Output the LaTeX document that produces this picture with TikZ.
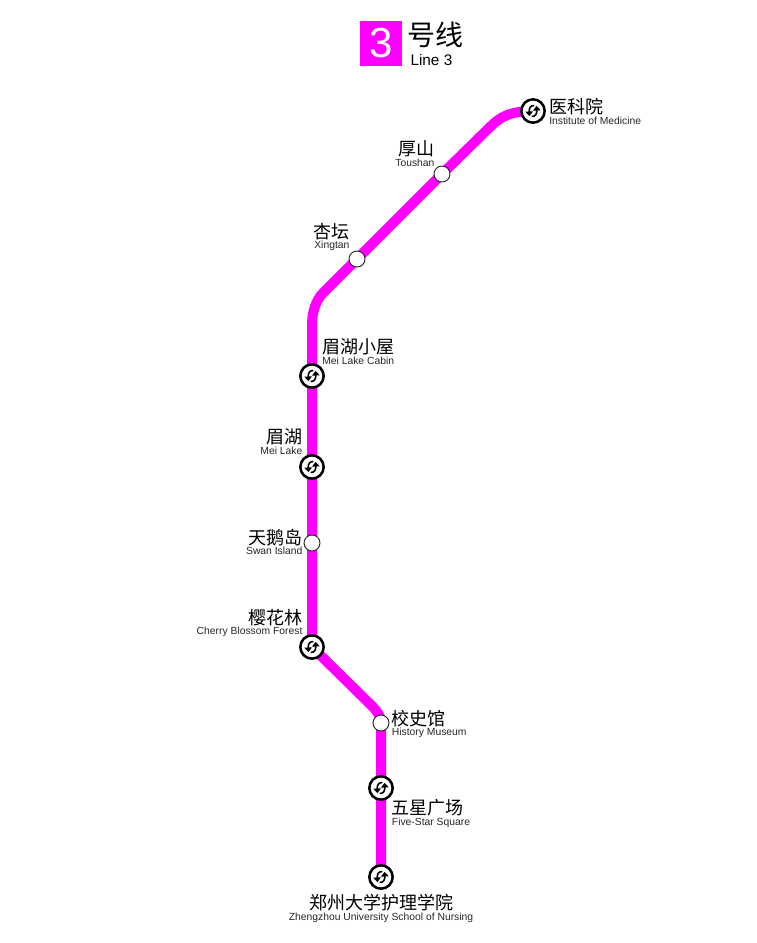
\documentclass[tikz,border=0pt]{standalone}
\usepackage{xcolor}
\usepackage{fontspec}
\setmainfont{Liberation Sans}
\newfontfamily\cjk{Noto Sans CJK SC}
\usetikzlibrary{arrows.meta,positioning,backgrounds}
\definecolor{linethree}{HTML}{FF00FF}
\newcommand{\lblfont}{\fontsize{7}{8}\selectfont\lineskiplimit=-20pt\relax}
\newcommand{\stn}[2]{{\fontsize{13.5}{13.5}\cjk #1}\\[-.1pt]{\fontsize{7.75}{7.75}\selectfont\color{black!85} #2}}
\begin{document}
\begin{tikzpicture}[x=.75pt,y=-.75pt,
  every node/.style={align=center,inner sep=0pt},
  stop/.style={circle,draw=black!85,fill=white,line width=.7pt,minimum size=12pt},
  xfer/.style={circle,draw=black,fill=white,line width=1.9pt,minimum size=17.5pt,
    path picture={
      \begin{scope}[shift={(path picture bounding box.center)},x=1pt,y=1pt,line width=1.2pt]
      \draw[-{Triangle[length=3.4pt,width=5.6pt]}] (1,4.1) .. controls (-1.8,4.2) and (-3,2.2) .. (-2.7,-3.8);
      \draw[-{Triangle[length=3.4pt,width=5.6pt]}] (-1,-4.1) .. controls (1.8,-4.2) and (3,-2.2) .. (2.7,3.8);
      \end{scope}
    }},
  lbl/.style={font=\lblfont},
  metro/.style={linethree,line width=7.5pt,line join=round}]
\useasboundingbox (0,0) rectangle (757,943);
% title
\node[fill=linethree,text=white,minimum width=31.5pt,minimum height=33.75pt,font=\fontsize{31.5}{31.5}\selectfont] (badge) at (381,43.5) {3};
\node[right=3.5pt of badge.north east,anchor=north west,yshift=-1pt,font=\fontsize{21}{21}\cjk] (title) {号线};
\node[right=6pt of badge.south east,anchor=south west,yshift=.5pt,font=\fontsize{11.5}{11.5}\selectfont] (sub) {Line 3};
% stations
\node[xfer] (yikeyuan) at (533,111) {};
\node[stop] (toushan) at (442,174) {};
\node[stop] (xingtan) at (357,259) {};
\node[xfer] (xiaowu) at (312,376) {};
\node[xfer] (meihu) at (312,467) {};
\node[stop] (swan) at (312,543) {};
\node[xfer] (cherry) at (312,647) {};
\node[stop] (museum) at (381,723) {};
\node[xfer] (square) at (381,788) {};
\node[xfer] (nursing) at (381,877) {};
% corners of the line
\coordinate (c1a) at (519,112);
\coordinate (c1b) at (490,127);
\coordinate (c2a) at (323,293);
\coordinate (c2b) at (312,325);
\coordinate (c3) at (372,706);
% line
\begin{scope}[on background layer]
\draw[metro] (yikeyuan.center)--(c1a) .. controls (505,114) and (497,120) .. (c1b)--(toushan.center)--(xingtan.center)--(c2a)
  .. controls (316,300) and (312,312) .. (c2b)--(xiaowu.center)--(meihu.center)--(swan.center)--(cherry.center)--(c3)
  .. controls (377,711) and (381,716) .. (museum.center)--(square.center)--(nursing.center);
\end{scope}
% labels
\node[lbl,align=left,above right=-10.2pt and 12pt of yikeyuan.center] (l1) {\stn{医科院}{Institute of Medicine}};
\node[lbl,align=right,above left=5.7pt and 5.5pt of toushan.center] (l2) {\stn{厚山}{Toushan}};
\node[lbl,align=right,above left=5.7pt and 5.5pt of xingtan.center] (l3) {\stn{杏坛}{Xingtan}};
\node[lbl,align=left,above right=8.5pt and 7.5pt of xiaowu.center] (l4) {\stn{眉湖小屋}{Mei Lake Cabin}};
\node[lbl,align=right,above left=9.2pt and 7pt of meihu.center] (l5) {\stn{眉湖}{Mei Lake}};
\node[lbl,align=right,above left=-9.2pt and 7pt of swan.center] (l6) {\stn{天鹅岛}{Swan Island}};
\node[lbl,align=right,above left=7.2pt and 7pt of cherry.center] (l7) {\stn{樱花林}{Cherry Blossom Forest}};
\node[lbl,align=left,above right=-11.5pt and 8pt of museum.center] (l8) {\stn{校史馆}{History Museum}};
\node[lbl,align=left,below right=8.6pt and 8pt of square.center] (l9) {\stn{五星广场}{Five-Star Square}};
\node[lbl,below=12.8pt of nursing.center] (l10) {\stn{郑州大学护理学院}{Zhengzhou University School of Nursing}};
\end{tikzpicture}
\end{document}
